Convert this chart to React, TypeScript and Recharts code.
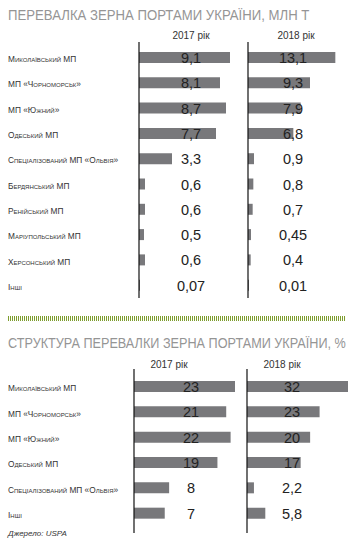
import { useLayoutEffect, useRef, useState } from 'react'
import { Bar, BarChart, LabelList, XAxis, YAxis } from 'recharts'

const ports = [
  'Миколаївський МП',
  'МП «Чорноморськ»',
  'МП «Южний»',
  'Одеський МП',
  'Спеціалізований МП «Ольвія»',
  'Бердянський МП',
  'Ренійський МП',
  'Маріупольський МП',
  'Херсонський МП',
  'Інші',
]
const volume2017 = [9.1, 8.1, 8.7, 7.7, 3.3, 0.6, 0.6, 0.5, 0.6, 0.07]
const volume2018 = [13.1, 9.3, 7.9, 6.8, 0.9, 0.8, 0.7, 0.45, 0.4, 0.01]

const sharePorts = [
  'Миколаївський МП',
  'МП «Чорноморськ»',
  'МП «Южний»',
  'Одеський МП',
  'Спеціалізований МП «Ольвія»',
  'Інші',
]
const share2017 = [23, 21, 22, 19, 8, 7]
const share2018 = [32, 23, 20, 17, 2.2, 5.8]

const years = ['2017 рік', '2018 рік']

const FONT = '"Liberation Sans", Arial, sans-serif'
const BAR = '#78787b'
const GREEN = '#7e9d2e'

const fmt = (v: number) => String(v).replace('.', ',')

type PanelProps = {
  names: string[]
  values: number[]
  max: number
  left: number
  top: number
  plotWidth: number
  height: number
  axisWidth: number
  labelAt: number
  padTop: number
  padBottom: number
  showNames: boolean
}

function Panel(p: PanelProps) {
  const rows = p.names.map((name, i) => ({ name, value: p.values[i] }))
  const NameTick = ({ y, payload }: any) => (
    <text
      x={8}
      y={y + 1.5}
      fontSize={8.3}
      fill="#333"
      dominantBaseline="central"
      style={{ fontVariant: 'small-caps' }}
    >
      {payload.value}
    </text>
  )
  const ValueLabel = ({ x, y, height, value }: any) => (
    <text
      x={x + p.labelAt}
      y={y + height / 2 + 0.5}
      fontSize={14.5}
      fill="#222"
      textAnchor="middle"
      dominantBaseline="central"
    >
      {fmt(value)}
    </text>
  )
  return (
    <div style={{ position: 'absolute', left: p.left, top: p.top }}>
      <BarChart
        width={p.axisWidth + p.plotWidth}
        height={p.height}
        data={rows}
        layout="vertical"
        margin={{ top: 0, right: 0, bottom: 0, left: 0 }}
        style={{ fontFamily: FONT }}
      >
        <XAxis type="number" domain={[0, p.max]} hide />
        <YAxis
          type="category"
          dataKey="name"
          width={p.axisWidth}
          tickLine={false}
          axisLine={{ stroke: '#111', strokeWidth: 1.2 }}
          tick={p.showNames ? <NameTick /> : false}
          padding={{ top: p.padTop, bottom: p.padBottom }}
          interval={0}
        />
        <Bar dataKey="value" fill={BAR} barSize={11} minPointSize={1} isAnimationActive={false}>
          <LabelList dataKey="value" content={<ValueLabel />} />
        </Bar>
      </BarChart>
    </div>
  )
}

function Text({ x, y, size, children, color = '#333', anchor = 'left', style = {} }: any) {
  const shift = anchor === 'center' ? 'translate(-50%, -50%)' : 'translate(0, -50%)'
  return (
    <div
      style={{
        position: 'absolute',
        left: x,
        top: y,
        transform: shift,
        fontSize: size,
        color,
        whiteSpace: 'nowrap',
        lineHeight: 1,
        ...style,
      }}
    >
      {children}
    </div>
  )
}

// heading squeezed horizontally to the width it has in the original layout
function Title({ y, width, size, children }: any) {
  const ref = useRef<HTMLDivElement>(null)
  const [k, setK] = useState(1)
  useLayoutEffect(() => {
    if (ref.current) setK(width / ref.current.offsetWidth)
  }, [width])
  return (
    <div
      ref={ref}
      style={{
        position: 'absolute',
        left: 8,
        top: y,
        transform: `translateY(-50%) scaleX(${k})`,
        transformOrigin: 'left center',
        fontSize: size,
        color: '#959595',
        whiteSpace: 'nowrap',
        lineHeight: 1,
      }}
    >
      {children}
    </div>
  )
}

function Separator() {
  const parts = [
    [8, 15],
    [16, 183],
    [184, 346],
  ]
  return (
    <>
      {parts.map(([a, b]) => (
        <div
          key={a}
          style={{
            position: 'absolute',
            left: a,
            top: 316,
            width: b - a,
            height: 5,
            background: `repeating-linear-gradient(to right, ${GREEN} 0 1px, transparent 1px 2px)`,
          }}
        />
      ))}
    </>
  )
}

export default function App() {
  return (
    <div
      style={{
        position: 'absolute',
        left: 0,
        top: 0,
        width: 356,
        height: 545,
        background: '#fff',
        fontFamily: FONT,
        overflow: 'hidden',
      }}
    >
      <Title y={15} width={301} size={14}>
        ПЕРЕВАЛКА ЗЕРНА ПОРТАМИ УКРАЇНИ, МЛН Т
      </Title>
      <Text x={191} y={36} size={10} anchor="center">
        {years[0]}
      </Text>
      <Text x={296} y={36} size={10} anchor="center">
        {years[1]}
      </Text>
      <Panel
        names={ports}
        values={volume2017}
        max={10}
        left={0}
        top={42}
        plotWidth={100}
        height={256}
        axisWidth={139}
        labelAt={52}
        padTop={3}
        padBottom={0}
        showNames
      />
      <Panel
        names={ports}
        values={volume2018}
        max={15}
        left={240}
        top={42}
        plotWidth={100}
        height={256}
        axisWidth={8}
        labelAt={45}
        padTop={3}
        padBottom={0}
        showNames={false}
      />

      <Separator />

      <Title y={343} width={338} size={14.5}>
        СТРУКТУРА ПЕРЕВАЛКИ ЗЕРНА ПОРТАМИ УКРАЇНИ, %
      </Title>
      <Text x={169} y={365} size={10} anchor="center">
        {years[0]}
      </Text>
      <Text x={282} y={365} size={10} anchor="center">
        {years[1]}
      </Text>
      <Panel
        names={sharePorts}
        values={share2017}
        max={23}
        left={0}
        top={369}
        plotWidth={101}
        height={164}
        axisWidth={134}
        labelAt={57}
        padTop={5}
        padBottom={7}
        showNames
      />
      <Panel
        names={sharePorts}
        values={share2018}
        max={32}
        left={239}
        top={369}
        plotWidth={101}
        height={164}
        axisWidth={8}
        labelAt={45}
        padTop={5}
        padBottom={7}
        showNames={false}
      />

      <Text x={8} y={534} size={8} style={{ fontStyle: 'italic' }}>
        Джерело: USPA
      </Text>
    </div>
  )
}
